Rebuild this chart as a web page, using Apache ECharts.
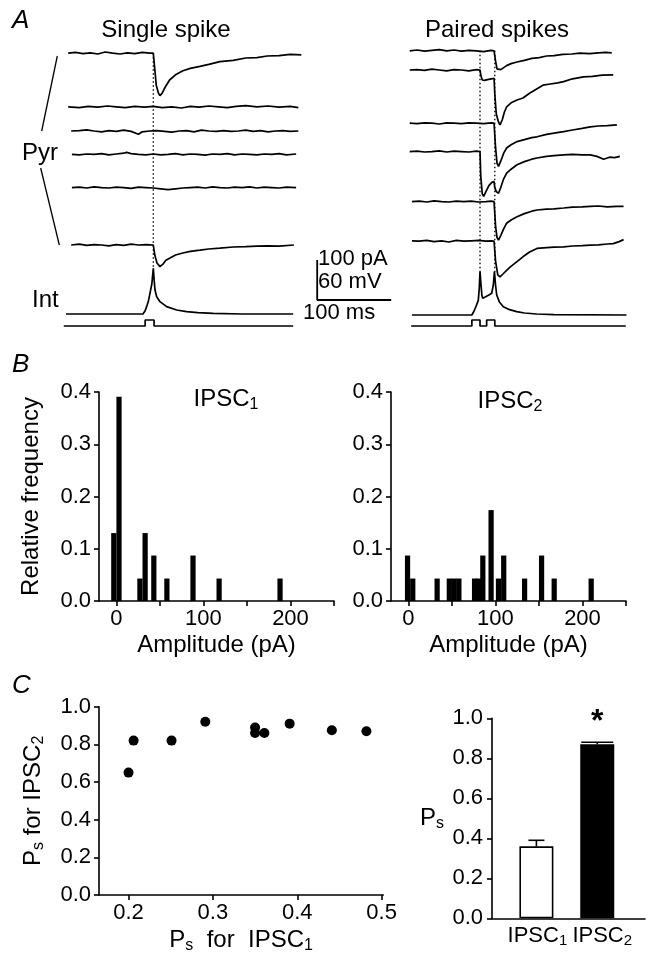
<!DOCTYPE html>
<html>
<head>
<meta charset="utf-8">
<script src="https://cdn.jsdelivr.net/npm/echarts@6/dist/echarts.min.js"></script>
<style>html,body{margin:0;padding:0;background:#fff}#c{width:658px;height:962px}</style>
</head>
<body>
<div id="c"></div>
<script>
// ---------------- DATA ----------------
// Panel A: traces, time in ms (0 = first presynaptic spike), current in pA relative to baseline
const singlePyr = [
  [[-115,0],[-105,2],[-95,-1],[-85,1],[-75,-2],[-65,3],[-55,0],[-45,-2],[-35,1],[-25,-1],[-15,2],[-5,0],[0,0],[2,-40],[4,-80],[7,-100],[9,-106],[12,-100],[16,-85],[22,-67],[30,-54],[40,-44],[50,-38],[63,-33],[75,-28],[90,-21],[108,-18],[125,-12],[140,-11],[154,-7],[170,-6],[185,-3],[200,-4]],
  [[-115,0],[-100,-2],[-88,1],[-75,-1],[-62,2],[-50,0],[-38,-2],[-25,1],[-12,-1],[0,1],[12,-2],[25,0],[38,-3],[50,1],[62,-1],[75,2],[88,0],[100,-2],[112,1],[125,3],[140,0],[155,2],[170,-1],[185,1],[196,-2]],
  [[-111,0],[-100,1],[-90,3],[-80,0],[-70,-2],[-60,1],[-50,-1],[-40,2],[-30,-1],[-20,-8],[-15,-2],[-5,0],[5,1],[15,-1],[25,-3],[35,0],[45,1],[55,-2],[65,2],[75,0],[85,-1],[95,1],[105,-1],[115,0],[125,2],[135,-1],[145,1],[155,-2],[165,0],[175,1],[185,-1],[196,0]],
  [[-110,0],[-100,-1],[-90,1],[-80,0],[-70,2],[-60,-1],[-50,1],[-40,3],[-36,5],[-30,2],[-20,0],[-10,-1],[0,1],[10,-1],[20,0],[30,2],[40,-1],[50,1],[60,0],[70,-2],[80,1],[90,0],[100,2],[110,-1],[120,1],[130,0],[140,-1],[150,1],[160,0],[170,2],[180,-1],[193,1]],
  [[-110,0],[-100,1],[-90,-1],[-80,2],[-70,0],[-60,-1],[-50,1],[-40,0],[-30,-2],[-20,1],[-10,0],[0,-1],[10,-3],[20,-5],[30,-3],[40,-1],[50,0],[60,1],[70,-1],[80,2],[90,0],[100,-1],[110,1],[120,0],[130,2],[140,-1],[150,1],[160,0],[170,-1],[180,1],[193,0]],
  [[-111,0],[-100,2],[-90,-1],[-80,1],[-70,0],[-60,-2],[-50,1],[-40,-1],[-30,2],[-20,0],[-10,1],[0,0],[2,-25],[5,-45],[9,-54],[13,-48],[17,-38],[22,-33],[30,-25],[40,-20],[50,-16],[63,-13],[75,-10],[90,-8],[108,-5],[125,-4],[140,-3],[154,-2],[170,-3],[190,0]]
];
const singlePyrOffset = [-33, -167, -227.5, -286, -369, -512.5];
// interneuron membrane potential, mV relative to rest
const singleInt = [[-118,0],[-14,0],[-11,5],[-9,11],[-6.5,20],[-4.5,31],[-2,45],[0,68.5],[1.2,50],[2.3,36],[4.6,26],[9,18.5],[18,11],[31.6,6],[45,3.5],[60,2],[81,1],[120,0],[189,0]];
const singleStim = [[-121,0],[-11,0],[-11,15],[1,15],[1,0],[189,0]];

const pairedPyr = [
  [[-95,0],[-85,2],[-75,-1],[-65,1],[-55,3],[-45,0],[-35,2],[-25,-1],[-15,1],[-5,0],[5,-2],[15,1],[19,0],[21,-25],[23,-45],[25,-50],[28,-47],[32,-42],[36,-37],[42,-32],[50,-28],[60,-24],[70,-19],[80,-17],[90,-13],[100,-12],[112,-9],[124,-8],[135,-6],[148,-7],[160,-5],[170,-4],[178,-5]],
  [[-95,0],[-85,1],[-75,-1],[-65,2],[-55,0],[-45,-2],[-35,1],[-25,0],[-15,-2],[-5,1],[0,0],[1,-12],[3,-25],[6,-26],[10,-24],[15,-22],[19,-21],[20,-60],[22,-110],[25,-130],[27,-137],[30,-125],[33,-105],[36,-92],[42,-82],[50,-75],[58,-70],[67,-58],[76,-48],[85,-38],[95,-35],[105,-32],[113,-29],[125,-22],[140,-17],[152,-16],[165,-13],[180,-12]],
  [[-95,0],[-85,-1],[-75,1],[-65,0],[-55,-2],[-45,1],[-35,0],[-25,-1],[-15,1],[-5,0],[5,-1],[15,1],[19,0],[21,-60],[23,-100],[25,-108],[28,-95],[32,-75],[36,-62],[42,-54],[50,-46],[60,-41],[70,-36],[77,-34],[90,-28],[100,-25],[113,-21],[125,-17],[138,-13],[149,-9],[160,-7],[172,-6],[185,-4]],
  [[-95,0],[-85,1],[-75,-1],[-65,0],[-55,2],[-45,-1],[-35,1],[-25,0],[-15,-1],[-5,1],[0,0],[1,-60],[3,-105],[5,-112],[8,-100],[12,-85],[16,-77],[19,-75],[20,-90],[22,-100],[25,-104],[28,-90],[32,-68],[36,-54],[42,-44],[50,-33],[60,-25],[70,-19],[77,-16],[90,-12],[100,-10],[113,-8],[125,-7],[138,-8],[149,-8],[158,-12],[167,-19],[175,-14],[182,-15],[189,-12]],
  [[-92,0],[-82,1],[-72,-1],[-62,2],[-52,0],[-42,-1],[-32,1],[-22,0],[-12,1],[-2,-1],[8,0],[15,1],[19,0],[21,-60],[23,-90],[25,-96],[28,-85],[32,-68],[36,-54],[42,-46],[50,-38],[60,-30],[70,-24],[77,-21],[90,-19],[100,-18],[113,-16],[125,-14],[138,-13],[149,-12],[160,-11],[172,-13],[185,-12],[194,-12]],
  [[-92,0],[-82,-1],[-72,1],[-62,-2],[-52,0],[-42,-3],[-32,1],[-22,-1],[-12,0],[-2,1],[8,-1],[15,0],[19,-1],[21,-50],[24,-85],[27,-90],[31,-83],[36,-74],[41,-65],[50,-52],[58,-40],[67,-28],[77,-19],[90,-17],[100,-16],[113,-15],[125,-13],[138,-12],[149,-11],[160,-10],[172,-8],[180,-7],[188,-2],[194,3]]
];
const pairedPyrOffset = [-27, -75, -208, -279, -404, -502];
const pairedInt = [[-92,0],[-11,0],[-8,6],[-5,14],[-2.3,22],[-1,40],[0,65],[1,50],[2.5,30],[3.6,25],[7,27],[12,30],[15.8,32.5],[18,45],[19.5,65],[21,45],[22.6,30],[26,20],[31.5,12.5],[40,8],[49.6,5],[60,3],[76.6,1.5],[100,0.5],[198,0]];
const pairedStim = [[-93,0],[-11,0],[-11,15],[0,15],[0,0],[9,0],[9,15],[20,15],[20,0],[197,0]];
const stimOffset = -715;
const spikeTimesSingle = [0];
const spikeTimesPaired = [0, 20];
const scaleBarMs = 100, scaleBarPA = 100;

// Panel B: amplitude histograms (bin centre in pA, relative frequency)
const binWidth = 6;
const ipsc1Centers = [-3, 3, 27, 33, 43, 58, 88, 118, 188];
const ipsc1Freq    = [0.130, 0.391, 0.043, 0.130, 0.087, 0.043, 0.087, 0.043, 0.043];
const ipsc2Centers = [-1, 5, 33, 47, 52.5, 58, 76, 80.5, 85.5, 95, 103.5, 109.5, 133.5, 153, 167.5, 210];
const ipsc2Freq    = [0.087, 0.043, 0.043, 0.043, 0.043, 0.043, 0.043, 0.043, 0.087, 0.174, 0.043, 0.087, 0.043, 0.087, 0.043, 0.043];
const histXLabels = [0, 100, 200];
const histXTicks = [0, 50, 100, 150, 200, 250];

// Panel C: success probability
const ps1 = [0.200, 0.206, 0.251, 0.291, 0.350, 0.350, 0.361, 0.391, 0.441, 0.482];
const ps2 = [0.65, 0.82, 0.82, 0.92, 0.89, 0.86, 0.86, 0.91, 0.875, 0.87];
const scatterXTicks = [0.2, 0.3, 0.4, 0.5];
const barCats = ['1', '2'];   // IPSC subscript
const barMean = [0.36, 0.87];
const barSem = [0.03, 0.01];
const sigMark = ['', '*'];

// ---------------- STYLE ----------------
const FONT = 'Liberation Sans, Arial, Helvetica, sans-serif';
const FS = 22;   // tick labels
const NFS = 24;  // axis names / titles
const BLACK = '#000';
const subRich = {
  m: {fontSize: NFS, fontFamily: FONT, color: BLACK},
  s: {fontSize: 16, fontFamily: FONT, color: BLACK, padding: [11, 0, 0, 0]}
};
const barLblRich = {
  m: {fontSize: 22, fontFamily: FONT, color: BLACK},
  s: {fontSize: 15, fontFamily: FONT, color: BLACK, padding: [10, 0, 0, 0]}
};

const chart = echarts.init(document.getElementById('c'), null, {renderer: 'canvas'});

function hidden(gi, min, max) {
  return {gridIndex: gi, type: 'value', min, max, show: false};
}
const axisLine = {show: true, onZero: false, lineStyle: {color: BLACK, width: 1.6}};
const axisTick = {show: true, length: 5, lineStyle: {color: BLACK, width: 1.6}};
const lbl = {color: BLACK, fontSize: FS, fontFamily: FONT};
const nameStyle = {color: BLACK, fontSize: NFS, fontFamily: FONT};

function trace(pts, off, xi, yi) {
  return {type: 'line', xAxisIndex: xi, yAxisIndex: yi, data: pts.map(p => [p[0], p[1] + off]),
    symbol: 'none', lineStyle: {color: BLACK, width: 1.7}, silent: true, animation: false, z: 3};
}
function seg(pts, xi, yi, extra) {
  return Object.assign({type: 'line', xAxisIndex: xi, yAxisIndex: yi, data: pts, symbol: 'none',
    lineStyle: {color: BLACK, width: 1.3}, silent: true, animation: false, z: 2}, extra || {});
}
const dotted = {lineStyle: {color: BLACK, width: 1.3, type: [1.5, 2.5]}};

const series = [];
// left (single spike) grid: xAxis 0, yAxis 0 (pA) / 1 (mV)
singlePyr.forEach((tr, i) => series.push(trace(tr, singlePyrOffset[i], 0, 0)));
series.push(trace(singleInt, 0, 0, 1));
series.push(trace(singleStim, stimOffset, 0, 0));
spikeTimesSingle.forEach(t => series.push(seg([[t, singlePyrOffset[0]], [t, -570]], 0, 0, dotted)));
// Pyr bracket
series.push(seg([[-129.7, -40], [-150.8, -227.5]], 0, 0));
series.push(seg([[-152.2, -320], [-127, -512.5]], 0, 0));
// right (paired spikes) grid: xAxis 1, yAxis 2 / 3
pairedPyr.forEach((tr, i) => series.push(trace(tr, pairedPyrOffset[i], 1, 2)));
series.push(trace(pairedInt, -1.5, 1, 3));
series.push(trace(pairedStim, stimOffset, 1, 2));
spikeTimesPaired.forEach(t => series.push(seg([[t, pairedPyrOffset[0]], [t, -580]], 1, 2, dotted)));
// scale bar
series.push(seg([[-220, -550], [-220, -550 - scaleBarPA], [-220 + scaleBarMs, -550 - scaleBarPA]], 1, 2, {lineStyle: {color: BLACK, width: 1.8}}));

// histograms
function histSeries(centers, freq, xi, yi) {
  return {type: 'custom', xAxisIndex: xi, yAxisIndex: yi, animation: false, silent: true,
    data: centers.map((c, i) => [c, freq[i]]),
    encode: {x: 0, y: 1},
    renderItem: (params, api) => {
      const c = api.value(0), h = api.value(1);
      const p0 = api.coord([c - binWidth / 2, 0]);
      const p1 = api.coord([c + binWidth / 2, h]);
      return {type: 'rect', shape: {x: p0[0], y: p1[1], width: p1[0] - p0[0], height: p0[1] - p1[1]}, style: {fill: BLACK}};
    }};
}
series.push(histSeries(ipsc1Centers, ipsc1Freq, 2, 4));
series.push(histSeries(ipsc2Centers, ipsc2Freq, 3, 5));

// scatter
series.push({type: 'scatter', xAxisIndex: 4, yAxisIndex: 6, data: ps1.map((v, i) => [v, ps2[i]]),
  symbol: 'circle', symbolSize: 10, itemStyle: {color: BLACK, opacity: 1}, silent: true, animation: false});

// bars
series.push({type: 'bar', xAxisIndex: 5, yAxisIndex: 7, data: barMean.map((v, i) => ({
    value: [i + 1, v], itemStyle: {color: i === 0 ? '#fff' : BLACK, borderColor: BLACK, borderWidth: 1.6, opacity: 1}})),
  barWidth: 34, silent: true, animation: false, z: 2});
// error bars, significance mark and category labels
series.push({type: 'custom', xAxisIndex: 5, yAxisIndex: 7, animation: false, silent: true, z: 3, clip: false,
  data: barMean.map((v, i) => [i + 1, v, barSem[i]]),
  renderItem: (params, api) => {
    const i = params.dataIndex;
    const x = api.value(0), m = api.value(1), e = api.value(2);
    const b = api.coord([x, m]); const t = api.coord([x, m + e]); const z0 = api.coord([x, 0]);
    const cap = i === 0 ? 16 : 32;
    const ch = [
      {type: 'line', shape: {x1: b[0], y1: b[1], x2: t[0], y2: t[1]}, style: {stroke: BLACK, lineWidth: 1.6}},
      {type: 'line', shape: {x1: t[0] - cap / 2, y1: t[1], x2: t[0] + cap / 2, y2: t[1]}, style: {stroke: BLACK, lineWidth: 1.6}},
      {type: 'text', x: z0[0] + (i === 0 ? 1 : 5), y: z0[1] + 5, style: {text: '{m|IPSC}{s|' + barCats[i] + '}', rich: barLblRich, align: 'center', verticalAlign: 'top'}}
    ];
    const s = sigMark[i];
    if (s) ch.push({type: 'text', x: t[0], y: t[1] - 4, style: {text: s, fill: BLACK, font: 'bold 32px ' + FONT, align: 'center', verticalAlign: 'bottom'}});
    return {type: 'group', children: ch};
  }});

const histY = (gi, showName) => ({gridIndex: gi, type: 'value', min: 0, max: 0.4, interval: 0.1,
  axisLine, axisTick, splitLine: {show: false},
  axisLabel: Object.assign({}, lbl, {margin: 8, formatter: v => v.toFixed(1)}),
  name: showName ? 'Relative frequency' : '', nameLocation: 'middle', nameGap: 56,
  nameTextStyle: nameStyle});
const histX = gi => ({gridIndex: gi, type: 'value', min: -20, max: 250,
  axisLine, axisTick: Object.assign({}, axisTick, {customValues: histXTicks}), splitLine: {show: false},
  axisLabel: Object.assign({}, lbl, {margin: 7, customValues: histXLabels}),
  name: 'Amplitude (pA)', nameLocation: 'middle', nameGap: 32,
  nameTextStyle: nameStyle});

const option = {
  backgroundColor: '#fff',
  animation: false,
  grid: [
    {left: 5.3, top: 40, width: 333, height: 300},
    {left: 295, top: 40, width: 333, height: 300},
    {left: 99, top: 392, width: 235, height: 209},
    {left: 391, top: 392, width: 235, height: 209},
    {left: 99, top: 706.7, width: 284.3, height: 188.3},
    {left: 492, top: 718.3, width: 153, height: 200}
  ],
  xAxis: [
    hidden(0, -200, 250),
    hidden(1, -250, 200),
    histX(2),
    histX(3),
    {gridIndex: 4, type: 'value', min: 0.165, max: 0.502, axisLine, axisTick: Object.assign({}, axisTick, {customValues: scatterXTicks}),
      splitLine: {show: false}, axisLabel: Object.assign({}, lbl, {margin: 7, customValues: scatterXTicks, formatter: v => v.toFixed(1)}),
      name: '{m|P}{s|s}{m|  for  IPSC}{s|1}', nameLocation: 'middle', nameGap: 32, nameTextStyle: {rich: subRich}},
    {gridIndex: 5, type: 'value', min: 0.27, max: 2.785, axisLine, axisTick: {show: false}, splitLine: {show: false},
      axisLabel: {show: false}}
  ],
  yAxis: [
    hidden(0, -750, 0), hidden(0, -39, 411),
    hidden(1, -750, 0), hidden(1, -39, 411),
    histY(2, true), histY(3, false),
    {gridIndex: 4, type: 'value', min: 0, max: 1, interval: 0.2, axisLine, axisTick, splitLine: {show: false},
      axisLabel: Object.assign({}, lbl, {margin: 8, formatter: v => v.toFixed(1)}),
      name: '{m|P}{s|s}{m| for IPSC}{s|2}', nameLocation: 'middle', nameGap: 52, nameTextStyle: {rich: subRich}},
    {gridIndex: 5, type: 'value', min: 0, max: 1, interval: 0.2, axisLine, axisTick, splitLine: {show: false},
      axisLabel: Object.assign({}, lbl, {margin: 9, formatter: v => v.toFixed(1)}),
      name: '{m|P}{s|s}', nameLocation: 'middle', nameRotate: 0, nameGap: 48, nameTextStyle: {rich: subRich}}
  ],
  graphic: [
    {type: 'text', x: 12, y: 21, style: {text: 'A', font: 'italic 26px ' + FONT, fill: BLACK, verticalAlign: 'middle'}},
    {type: 'text', x: 12, y: 365, style: {text: 'B', font: 'italic 26px ' + FONT, fill: BLACK, verticalAlign: 'middle'}},
    {type: 'text', x: 12, y: 686, style: {text: 'C', font: 'italic 26px ' + FONT, fill: BLACK, verticalAlign: 'middle'}},
    {type: 'text', x: 166, y: 30, style: {text: 'Single spike', font: NFS + 'px ' + FONT, fill: BLACK, align: 'center', verticalAlign: 'middle'}},
    {type: 'text', x: 497, y: 30, style: {text: 'Paired spikes', font: NFS + 'px ' + FONT, fill: BLACK, align: 'center', verticalAlign: 'middle'}},
    {type: 'text', x: 22, y: 153, style: {text: 'Pyr', font: NFS + 'px ' + FONT, fill: BLACK, verticalAlign: 'middle'}},
    {type: 'text', x: 32, y: 300, style: {text: 'Int', font: NFS + 'px ' + FONT, fill: BLACK, verticalAlign: 'middle'}},
    {type: 'text', x: 318, y: 259, style: {text: '100 pA', font: FS + 'px ' + FONT, fill: BLACK, verticalAlign: 'middle'}},
    {type: 'text', x: 318, y: 282, style: {text: '60 mV', font: FS + 'px ' + FONT, fill: BLACK, verticalAlign: 'middle'}},
    {type: 'text', x: 303, y: 313, style: {text: '100 ms', font: FS + 'px ' + FONT, fill: BLACK, verticalAlign: 'middle'}},
    {type: 'text', x: 226, y: 399, style: {text: '{m|IPSC}{s|1}', rich: subRich, align: 'center', verticalAlign: 'middle'}},
    {type: 'text', x: 510, y: 401, style: {text: '{m|IPSC}{s|2}', rich: subRich, align: 'center', verticalAlign: 'middle'}}
  ],
  series
};
chart.setOption(option);
</script>
</body>
</html>
